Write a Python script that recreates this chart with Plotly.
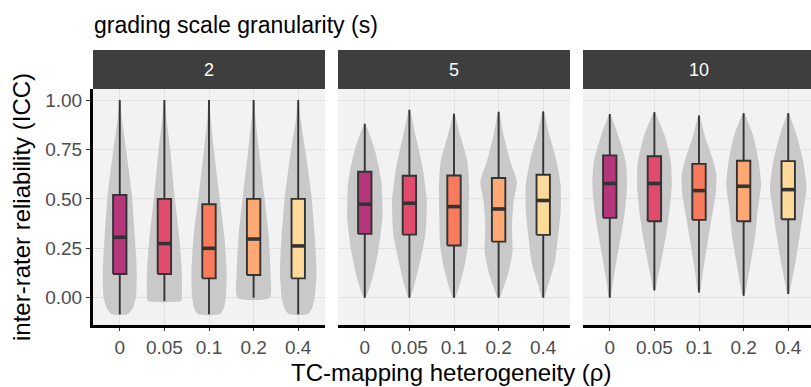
import plotly.graph_objects as go

W, H = 811, 387

# ---------------- data ----------------
RHO_LABELS = ["0", "0.05", "0.1", "0.2", "0.4"]
SCALE_LABELS = ["2", "5", "10"]
BOX_COLORS = ["#B5367A", "#E24C6C", "#F97B5D", "#FEA973", "#FEDA9A"]
Y_TICKS = [0.0, 0.25, 0.5, 0.75, 1.0]
Y_TICK_TEXT = ["0.00", "0.25", "0.50", "0.75", "1.00"]

# box statistics, s = 2
Q1_S2 = [0.120, 0.120, 0.098, 0.115, 0.098]
MED_S2 = [0.306, 0.274, 0.250, 0.297, 0.262]
Q3_S2 = [0.520, 0.500, 0.473, 0.500, 0.500]
LO_S2 = [-0.084, -0.017, -0.084, 0.000, -0.084]
HI_S2 = [1.000, 1.000, 1.000, 1.000, 1.000]

# box statistics, s = 5
Q1_S5 = [0.323, 0.319, 0.264, 0.284, 0.318]
MED_S5 = [0.473, 0.478, 0.461, 0.449, 0.492]
Q3_S5 = [0.637, 0.617, 0.618, 0.606, 0.622]
LO_S5 = [0.000, 0.000, 0.000, 0.000, 0.000]
HI_S5 = [0.880, 0.951, 0.931, 0.941, 0.943]

# box statistics, s = 10
Q1_S10 = [0.404, 0.387, 0.394, 0.387, 0.397]
MED_S10 = [0.578, 0.578, 0.542, 0.564, 0.547]
Q3_S10 = [0.720, 0.716, 0.677, 0.693, 0.691]
LO_S10 = [0.000, 0.037, 0.027, 0.010, 0.019]
HI_S10 = [0.929, 0.939, 0.922, 0.934, 0.934]

# violin outlines: ICC levels and relative density (0..1) at each level
VY_S2 = [
    [-0.084, -0.054, 0.0, 0.132, 0.318, 0.52, 0.74, 0.909, 1.0],
    [-0.017, 0.0, 0.132, 0.318, 0.52, 0.74, 0.909, 1.0],
    [-0.084, -0.054, 0.0, 0.132, 0.318, 0.52, 0.74, 0.909, 1.0],
    [0.0, 0.132, 0.318, 0.52, 0.74, 0.909, 1.0],
    [-0.084, -0.054, 0.0, 0.132, 0.318, 0.52, 0.74, 0.909, 1.0],
]
VD_S2 = [
    [0.42, 0.70, 0.88, 0.93, 0.82, 0.66, 0.36, 0.11, 0.02],
    [0.90, 0.95, 0.95, 0.80, 0.55, 0.33, 0.11, 0.02],
    [0.58, 0.80, 0.92, 0.96, 0.83, 0.56, 0.28, 0.09, 0.02],
    [0.88, 0.92, 0.82, 0.58, 0.30, 0.10, 0.02],
    [0.50, 0.75, 0.90, 1.00, 0.90, 0.72, 0.40, 0.12, 0.02],
]

VY_S5 = [
    [0.0, 0.098, 0.233, 0.402, 0.571, 0.655, 0.74, 0.824, 0.88],
    [0.0, 0.064, 0.182, 0.318, 0.486, 0.655, 0.824, 0.951],
    [0.0, 0.047, 0.149, 0.267, 0.402, 0.571, 0.689, 0.824, 0.931],
    [0.0, 0.039, 0.132, 0.233, 0.368, 0.486, 0.588, 0.689, 0.824, 0.941],
    [0.0, 0.064, 0.182, 0.318, 0.436, 0.571, 0.706, 0.824, 0.943],
]
VD_S5 = [
    [0.05, 0.42, 0.73, 0.96, 0.92, 0.78, 0.57, 0.27, 0.02],
    [0.05, 0.27, 0.58, 0.87, 0.95, 0.73, 0.33, 0.02],
    [0.05, 0.25, 0.55, 0.76, 0.80, 0.82, 0.73, 0.33, 0.02],
    [0.05, 0.22, 0.55, 0.76, 0.73, 0.82, 1.00, 0.64, 0.27, 0.02],
    [0.05, 0.27, 0.64, 0.82, 0.95, 0.95, 0.69, 0.33, 0.02],
]

VY_S10 = [
    [0.0, 0.064, 0.182, 0.318, 0.436, 0.571, 0.689, 0.824, 0.929],
    [0.037, 0.098, 0.199, 0.318, 0.436, 0.571, 0.689, 0.824, 0.939],
    [0.027, 0.132, 0.267, 0.402, 0.520, 0.622, 0.706, 0.807, 0.922],
    [0.010, 0.064, 0.182, 0.318, 0.436, 0.571, 0.689, 0.824, 0.934],
    [0.019, 0.064, 0.182, 0.318, 0.436, 0.554, 0.689, 0.824, 0.934],
]
VD_S10 = [
    [0.04, 0.15, 0.36, 0.62, 0.82, 0.95, 0.87, 0.45, 0.02],
    [0.04, 0.18, 0.40, 0.64, 0.82, 0.95, 0.90, 0.55, 0.02],
    [0.04, 0.22, 0.45, 0.69, 0.91, 0.95, 0.73, 0.36, 0.02],
    [0.04, 0.18, 0.40, 0.64, 0.76, 0.95, 0.82, 0.51, 0.02],
    [0.04, 0.15, 0.40, 0.64, 0.82, 1.00, 0.82, 0.45, 0.02],
]

PANELS = [
    (Q1_S2, MED_S2, Q3_S2, LO_S2, HI_S2, VY_S2, VD_S2),
    (Q1_S5, MED_S5, Q3_S5, LO_S5, HI_S5, VY_S5, VD_S5),
    (Q1_S10, MED_S10, Q3_S10, LO_S10, HI_S10, VY_S10, VD_S10),
]

# ---------------- style / layout ----------------
FONT = "Liberation Sans, Arial, sans-serif"
VIOLIN_HALF = 0.41      # max half-width of a violin, in category units
BOX_W = 0.30
VIOLIN_COLOR = "#C9C9C9"
DARK = "#333333"
PANEL_PX = [(93, 325), (338, 570), (583, 815)]
PLOT_TOP, PLOT_BOT = 89, 325
STRIP_TOP = 50
UNIT_PX = (PANEL_PX[0][1] - PANEL_PX[0][0]) / 5.2
Y_RANGE = [-0.138, 1.056]

fig = go.Figure()


def add_line(xs, ys, xa, ya, width, color=DARK):
    fig.add_trace(go.Scatter(x=xs, y=ys, mode="lines", line=dict(color=color, width=width),
                             hoverinfo="skip", showlegend=False, xaxis=xa, yaxis=ya))


for k, (q1, med, q3, lo, hi, vys, vds) in enumerate(PANELS):
    sfx = "" if k == 0 else str(k + 1)
    xa, ya = "x" + sfx, "y" + sfx
    # violins
    for i in range(len(RHO_LABELS)):
        xc = i + 1
        ys, ds = vys[i], vds[i]
        xs = [xc + d * VIOLIN_HALF for d in ds] + [xc - d * VIOLIN_HALF for d in reversed(ds)]
        yy = list(ys) + list(reversed(ys))
        fig.add_trace(go.Scatter(
            x=xs + [xs[0]], y=yy + [yy[0]], mode="lines", fill="toself",
            fillcolor=VIOLIN_COLOR,
            line=dict(width=0, color=VIOLIN_COLOR, shape="spline", smoothing=0.6),
            hoverinfo="skip", showlegend=False, xaxis=xa, yaxis=ya))
    # box plots
    for i in range(len(RHO_LABELS)):
        xc = i + 1
        xl, xr = xc - BOX_W / 2, xc + BOX_W / 2
        add_line([xc, xc], [lo[i], hi[i]], xa, ya, 1.9)
        fig.add_trace(go.Scatter(
            x=[xl, xr, xr, xl, xl], y=[q1[i], q1[i], q3[i], q3[i], q1[i]],
            mode="lines", fill="toself", fillcolor=BOX_COLORS[i],
            line=dict(color=DARK, width=1.9), hoverinfo="skip", showlegend=False,
            xaxis=xa, yaxis=ya))
        add_line([xl, xr], [med[i], med[i]], xa, ya, 3.6)

ydom = [1 - PLOT_BOT / H, 1 - PLOT_TOP / H]
layout = dict(
    width=W, height=H, margin=dict(l=0, r=0, t=0, b=0),
    paper_bgcolor="white", plot_bgcolor="#F2F2F2",
    font=dict(family=FONT), showlegend=False,
)
shapes = []
annotations = []
for k, (a, b) in enumerate(PANEL_PX):
    sfx = "" if k == 0 else str(k + 1)
    bc = min(b, W)
    xr = [0.4, 0.4 + (bc - a) / UNIT_PX]
    layout["xaxis" + sfx] = dict(
        domain=[a / W, bc / W], range=xr, anchor="y" + sfx,
        tickvals=[1, 2, 3, 4, 5], ticktext=RHO_LABELS,
        ticks="outside", ticklen=3, tickwidth=1, tickcolor=DARK,
        showline=True, linewidth=3, linecolor="black", mirror=False,
        showgrid=True, gridcolor="#E1E1E1", gridwidth=1, zeroline=False,
        tickfont=dict(size=19, color="#4D4D4D", family=FONT), fixedrange=True)
    first = k == 0
    layout["yaxis" + sfx] = dict(
        domain=ydom, range=Y_RANGE, anchor="x" + sfx,
        tickvals=Y_TICKS, ticktext=Y_TICK_TEXT,
        showticklabels=first, ticks="outside" if first else "", ticklen=4, tickwidth=1,
        tickcolor=DARK, showline=first, linewidth=3, linecolor="black",
        showgrid=True, gridcolor="#E1E1E1", gridwidth=1, zeroline=False,
        tickfont=dict(size=19, color="#4D4D4D", family=FONT), fixedrange=True)
    shapes.append(dict(type="rect", xref="paper", yref="paper",
                       x0=a / W, x1=bc / W, y0=1 - PLOT_TOP / H, y1=1 - STRIP_TOP / H,
                       fillcolor="#3E3E3E", line=dict(width=0), layer="above"))
    annotations.append(dict(text=SCALE_LABELS[k], xref="paper", yref="paper",
                            x=(a + b) / 2 / W, y=1 - (STRIP_TOP + PLOT_TOP) / 2 / H,
                            xanchor="center", yanchor="middle", showarrow=False,
                            font=dict(size=18, color="white", family=FONT)))

annotations.append(dict(text="grading scale granularity (s)", xref="paper", yref="paper",
                        x=92 / W, y=1 - 25 / H, xanchor="left", yanchor="middle",
                        showarrow=False, font=dict(size=23, color="black", family=FONT)))
annotations.append(dict(text="TC-mapping heterogeneity (ρ)", xref="paper", yref="paper",
                        x=451 / W, y=1 - 372 / H, xanchor="center", yanchor="middle",
                        showarrow=False, font=dict(size=24, color="black", family=FONT)))
annotations.append(dict(text="inter-rater reliability (ICC)", xref="paper", yref="paper",
                        x=22 / W, y=1 - 207 / H, xanchor="center", yanchor="middle",
                        textangle=-90, showarrow=False,
                        font=dict(size=24, color="black", family=FONT)))
layout["shapes"] = shapes
layout["annotations"] = annotations
fig.update_layout(**layout)

fig.write_html("out.html", config={"displayModeBar": False},
               post_script="document.body.style.margin='0';document.body.style.overflow='hidden';")
